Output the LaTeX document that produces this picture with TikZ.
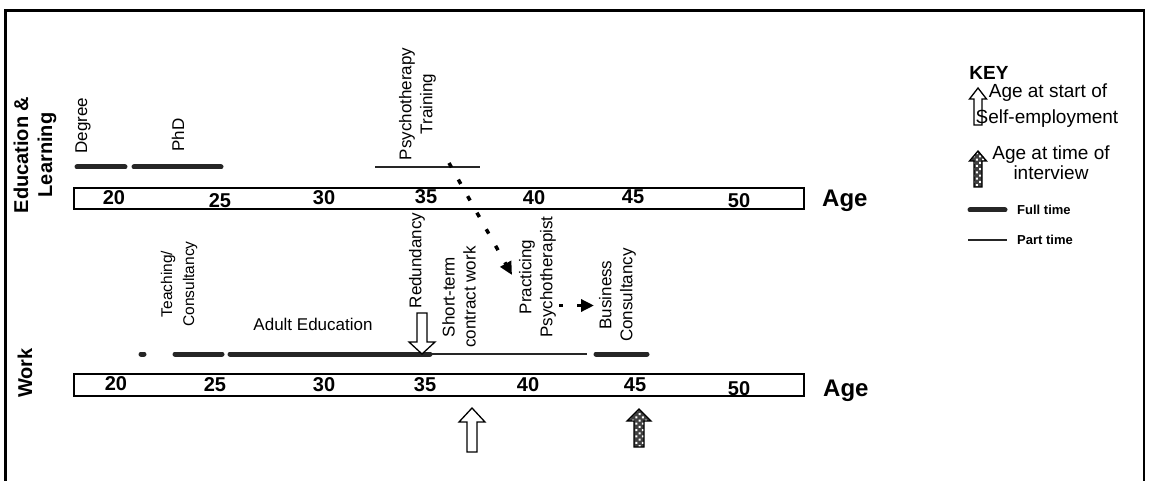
\documentclass[tikz,border=0pt]{standalone}
\usepackage{fontspec}
\setmainfont{Liberation Sans}
\usetikzlibrary{arrows.meta,patterns.meta}
\begin{document}
\begin{tikzpicture}[x={(1pt,0)},y={(0,-1pt)},
  lab/.style={font=\fontsize{17}{21}\selectfont, inner sep=0pt, align=center},
  vlab/.style={lab, rotate=90},
  sec/.style={font=\fontsize{20}{24}\selectfont\bfseries, inner sep=0pt, align=center, rotate=90},
  num/.style={font=\fontsize{20}{20}\selectfont\bfseries, inner sep=0pt},
  agelab/.style={font=\fontsize{24}{24}\selectfont\bfseries, inner sep=0pt, anchor=base west},
  axisbox/.style={draw, line width=2.5pt, minimum width=730pt, inner sep=0pt},
  fulltime/.style={line width=5pt, line cap=round, draw=black!85},
  parttime/.style={line width=2pt, draw=black!85},
  dasharrow/.style={line width=3.5pt, dash pattern=on 5pt off 14pt, -{Triangle[length=13pt,width=12pt]}},
  whitearrow/.style={draw, line width=1.3pt, fill=white, line join=miter},
  patarrow/.style={draw, line width=1.3pt, preaction={fill=black!75}, pattern={Dots[distance=4.5pt, radius=1.4pt, angle=45]}, pattern color=white},
  keytxt/.style={font=\fontsize{19}{19}\selectfont, inner sep=0pt, anchor=base},
  smallkey/.style={font=\fontsize{13}{13}\selectfont\bfseries, inner sep=0pt, anchor=west}
]
\useasboundingbox (0,0) rectangle (1151,481);
% frame
\draw[line width=2.5pt] (5.5,482) -- (5.5,10.5) -- (1144,10.5) -- (1144,482);

% section labels
\node[sec] (edu) at (35,155) {Education \&\\Learning};
\node[sec] (work) at (25,373) {Work};

% axis boxes
\node[axisbox, minimum height=21pt] (topaxis) at (439,198.5) {};
\node[axisbox, minimum height=22pt] (botaxis) at (439,385) {};
\node[agelab] (topage) at (822,207) {Age};
\node[agelab] (botage) at (823,396) {Age};

% top numbers
\node[num] (t20) at (114,198) {20};
\node[num] (t25) at (220,201) {25};
\node[num] (t30) at (324,198) {30};
\node[num] (t35) at (426,197) {35};
\node[num] (t40) at (534,198) {40};
\node[num] (t45) at (633,197) {45};
\node[num] (t50) at (739,201) {50};
% bottom numbers
\node[num] (b20) at (116,384) {20};
\node[num] (b25) at (215,385) {25};
\node[num] (b30) at (324,385) {30};
\node[num] (b35) at (425,385) {35};
\node[num] (b40) at (528,385) {40};
\node[num] (b45) at (635,385) {45};
\node[num] (b50) at (739,389) {50};

% education bars
\draw[fulltime] (77,167) -- (125,167);
\draw[fulltime] (134,167) -- (221,167);
\draw[parttime] (375,167) -- (480,167);
\node[vlab] (degree) at (83,125.5) {Degree};
\node[vlab] (phd) at (178,135) {PhD};
\node[vlab] (psytrain) at (417.5,104) {Psychotherapy\\Training};

% work bars
\draw[fulltime] (141,354) -- (144,354);
\draw[fulltime] (175,354) -- (222,354);
\draw[fulltime] (230,354) -- (430,354);
\draw[parttime] (430,354) -- (587,354);
\draw[fulltime] (596,354) -- (647,354);
\node[vlab, font=\fontsize{15.5}{22}\selectfont] (teach) at (179,284) {Teaching/\\Consultancy};
\node[lab, anchor=base] (adult) at (313,330) {Adult Education};
\node[vlab] (redund) at (417,260.5) {Redundancy};
\node[vlab] (short) at (459,297) {Short-term\\contract work};
\node[vlab] (prac) at (537.5,277) {Practicing\\Psychotherapist};
\node[vlab] (bus) at (617.5,295) {Business\\Consultancy};

% redundancy arrow (down)
\draw[whitearrow] (417,313) -- (427,313) -- (427,342) -- (435,342) -- (422,354) -- (409,342) -- (417,342) -- cycle;

% dashed connectors
\coordinate (ptstart) at (449,163);
\coordinate (pracin) at (512,275);
\coordinate (pracout) at (559,305.5);
\coordinate (busin) at (594,305.5);
\draw[dasharrow] (ptstart) -- (pracin);
\draw[dasharrow, dash pattern=on 4pt off 14pt] (pracout) -- (busin);

% bottom arrows
\draw[whitearrow] (467,452) -- (467,422) -- (459,422) -- (472,408) -- (485,422) -- (477,422) -- (477,452) -- cycle;
\draw[patarrow] (634,447) -- (634,421) -- (627,421) -- (639,409) -- (651,421) -- (644,421) -- (644,447) -- cycle;

% key
\node[font=\fontsize{19}{19}\selectfont\bfseries, inner sep=0pt] (key) at (989,73) {KEY};
\draw[whitearrow] (974,125) -- (974,99) -- (969.5,99) -- (978,88) -- (986.5,99) -- (982,99) -- (982,125) -- cycle;
\node[keytxt] (k1a) at (1048,98) {Age at start of};
\node[keytxt] (k1b) at (1047,124) {Self-employment};
\draw[patarrow] (974,187) -- (974,161) -- (969.5,161) -- (978,151) -- (986.5,161) -- (982,161) -- (982,187) -- cycle;
\node[keytxt] (k2a) at (1051,160) {Age at time of};
\node[keytxt] (k2b) at (1051,180) {interview};
\draw[fulltime] (970,210) -- (1005,210);
\node[smallkey] (kfull) at (1017,210) {Full time};
\draw[parttime] (968,240) -- (1007,240);
\node[smallkey] (kpart) at (1017,240) {Part time};
\end{tikzpicture}
\end{document}
